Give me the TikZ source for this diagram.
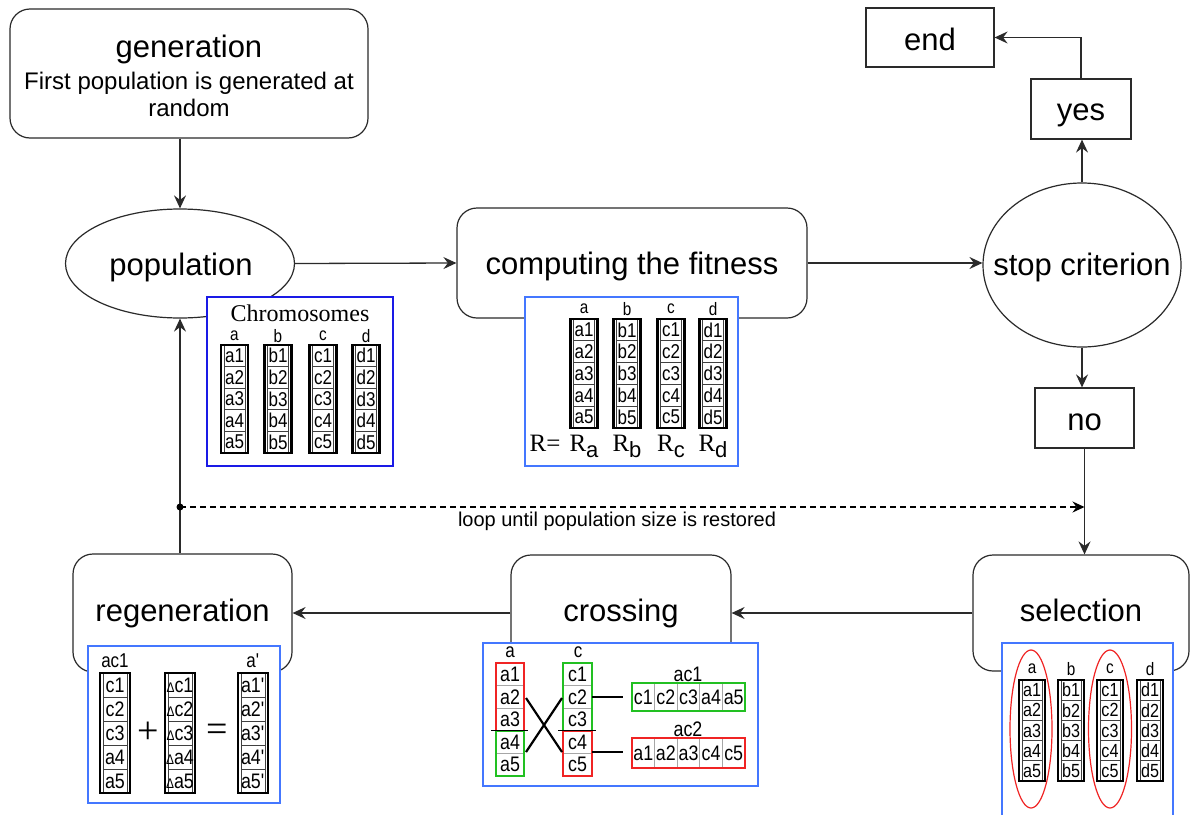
\documentclass[tikz,border=0pt]{standalone}
\usepackage{fontspec}
\setmainfont{Liberation Sans}
\newfontfamily\seriffont{Liberation Serif}
\newfontfamily\narrowfont[FakeStretch=0.85]{Liberation Sans}
\usetikzlibrary{arrows.meta,shapes.geometric}
\definecolor{lineg}{HTML}{2A2A2A}
\definecolor{pblue}{HTML}{4477FF}
\definecolor{dblue}{HTML}{1A1AE6}
\definecolor{xred}{HTML}{F02424}
\definecolor{xgreen}{HTML}{22C022}
\newcommand{\fmain}{\fontsize{31}{36}\selectfont}
\newcommand{\fsubt}{\fontsize{24}{28}\selectfont}
\newcommand{\fcell}{\narrowfont\fontsize{20}{22}\selectfont}
\newcommand{\flab}{\narrowfont\fontsize{18}{20}\selectfont}
\newcommand{\floop}{\fontsize{20}{24}\selectfont}
\newcommand{\dl}[1]{{\fontsize{14}{14}\selectfont Δ}#1}
\newcommand{\pr}[1]{#1\textquotesingle}
% chromosome column with thick outer border
\newcommand{\gcol}[6]{%
  \foreach \lbl [count=\i] in {#6}{
    \draw[line width=0.7pt, black!75] ({#2-#4/2+3},{#3+(\i-1)*#5}) rectangle ({#2+#4/2-3},{#3+\i*#5});
    \node[celltext] (#1\i) at ({#2},{#3+(\i-0.5)*#5}) {\lbl};
  }
  \draw[line width=2.4pt] ({#2-#4/2},{#3}) rectangle ({#2+#4/2},{#3+5*#5});
}
% crossing column with coloured halves
\newcommand{\xcol}[8]{%
  \foreach \lbl [count=\i] in {#6}{
    \node[celltext] (#1\i) at ({#2},{#3+(\i-0.5)*#5}) {\lbl};
  }
  \foreach \i in {1,2,4}{\draw[gray!70, line width=0.8pt] ({#2-#4/2},{#3+\i*#5}) -- ({#2+#4/2},{#3+\i*#5});}
  \draw[#7, line width=1.7pt] ({#2-#4/2},{#3}) rectangle ({#2+#4/2},{#3+3*#5});
  \draw[#8, line width=1.7pt] ({#2-#4/2},{#3+3*#5}) rectangle ({#2+#4/2},{#3+5*#5});
  \draw[black, line width=1pt] ({#2-#4/2-5},{#3+3*#5}) -- ({#2+#4/2+4},{#3+3*#5});
}
% crossing result row
\newcommand{\xrow}[7]{%
  \foreach \lbl [count=\i] in {#6}{
    \node[celltext] (#1\i) at ({#2+(\i-0.5)*#4},{#3+#5/2}) {\lbl};
  }
  \foreach \i in {1,...,4}{\draw[gray!70, line width=0.8pt] ({#2+\i*#4},{#3}) -- ({#2+\i*#4},{#3+#5});}
  \draw[#7, line width=1.7pt] ({#2},{#3}) rectangle ({#2+5*#4},{#3+#5});
}
\begin{document}
\begin{tikzpicture}[x=1pt,y=-1pt,
  rbox/.style={draw=lineg, line width=1.2pt, rounded corners=20pt, fill=white, inner sep=0pt},
  sbox/.style={draw=lineg, line width=1.2pt, fill=white, inner sep=0pt},
  ell/.style={draw=lineg, line width=1.2pt, ellipse, fill=white, inner sep=0pt},
  flow/.style={draw=lineg, line width=1.3pt, -{Stealth[length=13pt,width=12pt,inset=4.5pt]}},
  panel/.style={draw=pblue, line width=1.6pt, fill=white},
  celltext/.style={inner sep=0pt, font=\fcell},
  collab/.style={inner sep=0pt, font=\flab},
  mtext/.style={anchor=base, font=\fmain, inner sep=0pt}]
\useasboundingbox (0,0) rectangle (1190,814);
\clip (0,0) rectangle (1190,814);
\fill[white] (0,0) rectangle (1190,814);

% ---- main nodes
\node[rbox, minimum width=358pt, minimum height=129pt] (gen) at (189,73.5) {};
\node[mtext] (gent) at (189,57) {generation};
\node[anchor=base, font=\fsubt, inner sep=0pt] (gens1) at (189,89) {First population is generated at};
\node[anchor=base, font=\fsubt, inner sep=0pt] (gens2) at (189,116) {random};

\node[ell, minimum width=229pt, minimum height=109pt] (pop) at (180,263.5) {};
\node[mtext] (popt) at (181,275) {population};
\node[rbox, minimum width=350pt, minimum height=110pt] (fit) at (632,263) {};
\node[mtext] (fitt) at (632,274) {computing the fitness};
\node[ell, minimum width=198pt, minimum height=164pt] (stop) at (1082,265) {};
\node[mtext] (stopt) at (1082,275) {stop criterion};
\node[sbox, minimum width=99pt, minimum height=60pt] (no) at (1084.5,418) {};
\node[mtext] (not) at (1084.5,430) {no};
\node[sbox, minimum width=100pt, minimum height=60pt] (yes) at (1081,109) {};
\node[mtext] (yest) at (1081,120) {yes};
\node[sbox, minimum width=128pt, minimum height=59pt] (end) at (930,37.5) {};
\node[mtext] (endt) at (930,50) {end};
\node[rbox, minimum width=216pt, minimum height=116pt] (sel) at (1081,613) {};
\node[mtext] (selt) at (1081,621) {selection};
\node[rbox, minimum width=220pt, minimum height=116pt] (cross) at (621,613) {};
\node[mtext] (crosst) at (621,621) {crossing};
\node[rbox, minimum width=219pt, minimum height=118pt] (regen) at (182.5,613) {};
\node[mtext] (regent) at (182.5,621) {regeneration};

% ---- connectors
\draw[flow] (pop.north |- gen.south) -- (pop.north);
\draw[flow] (pop.east) -- (fit.west);
\draw[flow] (fit.east) -- (fit.east -| stop.west);
\draw[flow] (stop.south) -- (stop.south |- no.north);
\draw[flow] (stop.north) -- (stop.north |- yes.south);
\draw[flow] (yes.north) |- (end.east);
\draw[flow] (no.south) -- (no.south |- sel.north);
\draw[flow] (sel.west) -- (cross.east);
\draw[flow] (cross.west) -- (regen.east);
\draw[flow] (pop.south |- regen.north) -- (pop.south);
\coordinate (loopy) at (0,507);
\coordinate (loopdot) at (pop.south |- loopy);
\fill (loopdot) circle (3.5pt);
\draw[line width=1.5pt, dash pattern=on 6pt off 4pt, -{Stealth[length=12pt,width=11pt,inset=4pt]}] (loopdot) -- (loopdot -| no.south);
\node[anchor=base, font=\floop, inner sep=0pt] (looptxt) at (617,526) {loop until population size is restored};

% ---- panels
\draw[panel, draw=dblue] (207,297) rectangle (393,466);
\draw[panel] (525,297) rectangle (738,466);
\draw[panel] (88,646) rectangle (280,803);
\draw[panel] (483,643) rectangle (758,786);
\draw[panel] (1002,643) rectangle (1173,830);

% chromosomes panel
\node[inner sep=0pt, font=\seriffont\fontsize{24}{26}\selectfont] (chromt) at (300,313) {Chromosomes};
\node[collab] (cla) at (234.5,336) {a};
\node[collab] (clb) at (278,336) {b};
\node[collab] (clc) at (323,336) {c};
\node[collab] (cld) at (366,336) {d};
\gcol{ca}{234.5}{345}{27}{21.6}{a1,a2,a3,a4,a5}
\gcol{cb}{278}{345}{27}{21.6}{b1,b2,b3,b4,b5}
\gcol{cc}{323}{345}{27}{21.6}{c1,c2,c3,c4,c5}
\gcol{cd}{366}{345}{27}{21.6}{d1,d2,d3,d4,d5}

% fitness panel
\node[collab] (fla) at (584,309) {a};
\node[collab] (flb) at (627,309) {b};
\node[collab] (flc) at (671,309) {c};
\node[collab] (fld) at (713,309) {d};
\gcol{fa}{584}{319}{27}{21.8}{a1,a2,a3,a4,a5}
\gcol{fb}{627}{319}{27}{21.8}{b1,b2,b3,b4,b5}
\gcol{fc}{671}{319}{27}{21.8}{c1,c2,c3,c4,c5}
\gcol{fd}{713}{319}{27}{21.8}{d1,d2,d3,d4,d5}
\node[anchor=base, inner sep=0pt, font=\seriffont\fontsize{25}{27}\selectfont] (req) at (545,451) {R=};
\node[anchor=base, inner sep=0pt, font=\fontsize{22}{24}\selectfont] (ra) at (584,451) {{\seriffont\fontsize{25}{27}\selectfont R}\raisebox{-6pt}{a}};
\node[anchor=base, inner sep=0pt, font=\fontsize{22}{24}\selectfont] (rb) at (627,451) {{\seriffont\fontsize{25}{27}\selectfont R}\raisebox{-6pt}{b}};
\node[anchor=base, inner sep=0pt, font=\fontsize{22}{24}\selectfont] (rc) at (671,451) {{\seriffont\fontsize{25}{27}\selectfont R}\raisebox{-6pt}{c}};
\node[anchor=base, inner sep=0pt, font=\fontsize{22}{24}\selectfont] (rd) at (713,451) {{\seriffont\fontsize{25}{27}\selectfont R}\raisebox{-6pt}{d}};

% regeneration panel
\node[collab, font=\narrowfont\fontsize{20}{22}\selectfont] (rla) at (115,661) {ac1};
\node[collab, font=\narrowfont\fontsize{20}{22}\selectfont] (rlb) at (253,661) {a\textquotesingle};
\begin{scope}[celltext/.style={inner sep=0pt, font=\narrowfont\fontsize{21}{23}\selectfont}]
\gcol{ga}{115}{673}{30}{24}{c1,c2,c3,a4,a5}
\gcol{gb}{180}{673}{30}{24}{\dl{c1},\dl{c2},\dl{c3},\dl{a4},\dl{a5}}
\gcol{gc}{253}{673}{30}{24}{\pr{a1},\pr{a2},\pr{a3},\pr{a4},\pr{a5}}
\end{scope}
\node[inner sep=0pt, font=\seriffont\fontsize{38}{38}\selectfont] (plus) at (148,733) {+};
\node[inner sep=0pt, font=\seriffont\fontsize{38}{38}\selectfont] (eq) at (217,733) {=};

% crossing panel
\node[collab, font=\narrowfont\fontsize{20}{22}\selectfont] (xla) at (510,652) {a};
\node[collab, font=\narrowfont\fontsize{20}{22}\selectfont] (xlc) at (578,652) {c};
\begin{scope}[celltext/.style={inner sep=0pt, font=\narrowfont\fontsize{21}{23}\selectfont}]
\xcol{xa}{510}{663}{28}{22.6}{a1,a2,a3,a4,a5}{xred}{xgreen}
\xcol{xc}{577.5}{663}{29}{22.6}{c1,c2,c3,c4,c5}{xgreen}{xred}
\node[collab, font=\narrowfont\fontsize{21}{22}\selectfont] (ac1l) at (688,674) {ac1};
\node[collab, font=\narrowfont\fontsize{21}{22}\selectfont] (ac2l) at (688,729) {ac2};
\xrow{ra1}{632}{683}{22.6}{28}{c1,c2,c3,a4,a5}{xgreen}
\xrow{ra2}{632}{738}{22.6}{30}{a1,a2,a3,c4,c5}{xred}
\end{scope}
\coordinate (xa2e) at (526,698);
\coordinate (xa4e) at (526,752);
\coordinate (xc2w) at (562,698);
\coordinate (xc4w) at (562,752);
\draw[line width=2.2pt] (xa2e) -- (xc4w);
\draw[line width=2.2pt] (xa4e) -- (xc2w);
\coordinate (xc2e) at (592,697);
\coordinate (xc4e) at (592,752);
\draw[line width=2.2pt] (xc2e) -- ++(31,0) coordinate (r1w);
\draw[line width=2.2pt] (xc4e) -- ++(31,0) coordinate (r2w);

% selection panel
\node[collab] (sla) at (1032,669) {a};
\node[collab] (slb) at (1071,669) {b};
\node[collab] (slc) at (1110,669) {c};
\node[collab] (sld) at (1150,669) {d};
\begin{scope}[celltext/.style={inner sep=0pt, font=\narrowfont\fontsize{19}{20}\selectfont}]
\gcol{sa}{1032}{680}{26}{20.2}{a1,a2,a3,a4,a5}
\gcol{sb}{1071}{680}{26}{20.2}{b1,b2,b3,b4,b5}
\gcol{sc}{1110}{680}{26}{20.2}{c1,c2,c3,c4,c5}
\gcol{sd}{1150}{680}{26}{20.2}{d1,d2,d3,d4,d5}
\end{scope}
\draw[xred, line width=1.2pt] (1031,729) ellipse [x radius=21pt, y radius=79pt];
\draw[xred, line width=1.2pt] (1110,729) ellipse [x radius=21.5pt, y radius=79pt];
\end{tikzpicture}
\end{document}
